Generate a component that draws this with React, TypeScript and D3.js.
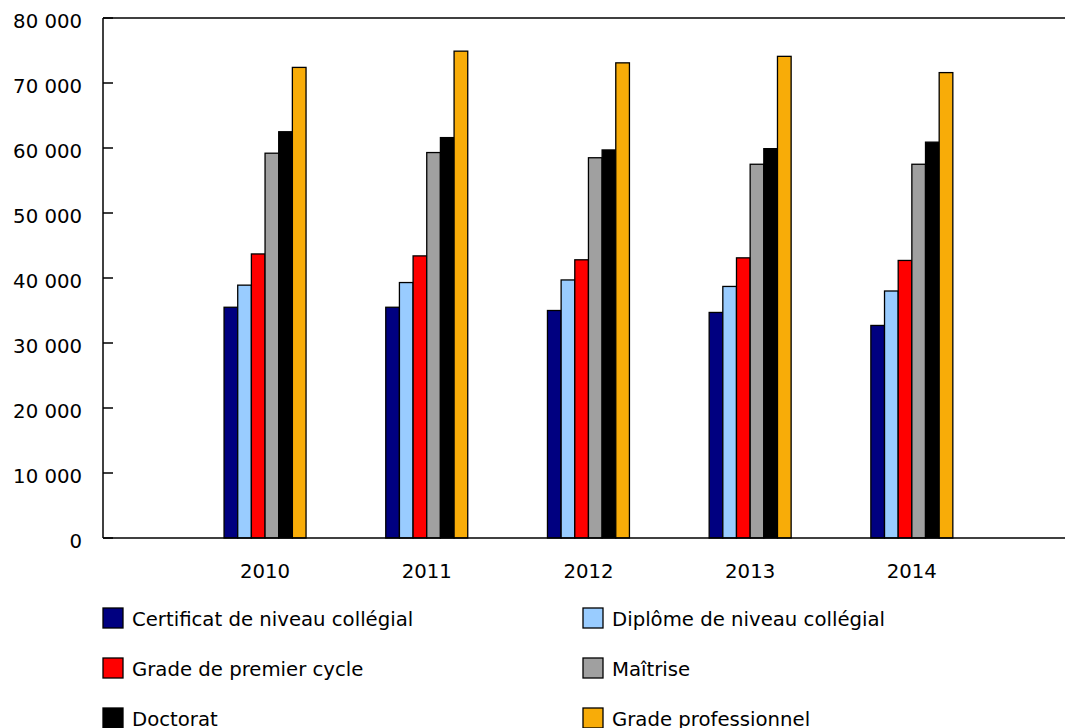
import React from "react";
import * as d3 from "d3";

const years = ["2010", "2011", "2012", "2013", "2014"];
const seriesNames = [
  "Certificat de niveau collégial",
  "Diplôme de niveau collégial",
  "Grade de premier cycle",
  "Maîtrise",
  "Doctorat",
  "Grade professionnel",
];
const seriesColors = ["#000080", "#99CCFF", "#FF0000", "#A0A0A0", "#000000", "#F8AC08"];
const certificat = [35500, 35500, 35000, 34700, 32700];
const diplome = [38900, 39300, 39700, 38700, 38000];
const premierCycle = [43700, 43400, 42800, 43100, 42700];
const maitrise = [59200, 59300, 58500, 57500, 57500];
const doctorat = [62500, 61600, 59700, 59900, 60900];
const professionnel = [72400, 74900, 73100, 74100, 71600];
const seriesValues = [certificat, diplome, premierCycle, maitrise, doctorat, professionnel];
const yTicks = [0, 10000, 20000, 30000, 40000, 50000, 60000, 70000, 80000];

const W = 1065;
const H = 728;
const FONT = "'DejaVu Sans', Verdana, sans-serif";
const FS = 19.7;

export default function App() {
  const axisX = 103;
  const top = 18;
  const bottom = 538;
  const y = d3.scaleLinear().domain([0, 80000]).range([bottom, top]);
  const x0 = d3
    .scaleBand<string>()
    .domain(years)
    .range([184.2, 992.7])
    .paddingInner(0.493)
    .paddingOuter(0.2465);
  const x1 = d3
    .scaleBand<number>()
    .domain(d3.range(seriesNames.length))
    .range([0, x0.bandwidth()]);
  const fmt = (v: number) => d3.format(",")(v).replace(/,/g, " ");

  return (
    <svg
      width={W}
      height={H}
      style={{ position: "absolute", left: 0, top: 0, background: "#fff" }}
      fontFamily={FONT}
    >
      {years.map((yr, i) => (
        <g key={yr} transform={`translate(${x0(yr)},0)`}>
          {seriesValues.map((vals, s) => (
            <rect
              key={s}
              x={x1(s)}
              y={y(vals[i])}
              width={x1.bandwidth()}
              height={bottom - y(vals[i])}
              fill={seriesColors[s]}
              stroke="#000"
              strokeWidth={1.3}
            />
          ))}
        </g>
      ))}
      <line x1={axisX} x2={W} y1={top} y2={top} stroke="#000" strokeWidth={1.5} />
      <line x1={axisX} x2={W} y1={bottom} y2={bottom} stroke="#000" strokeWidth={1.5} />
      <line x1={axisX} x2={axisX} y1={top} y2={bottom} stroke="#000" strokeWidth={1.5} />
      {yTicks.map((t) => (
        <g key={t}>
          <line x1={axisX} x2={axisX + 10} y1={y(t)} y2={y(t)} stroke="#000" strokeWidth={1.5} />
          <text x={82} y={y(t)} dy="0.5em" textAnchor="end" fontSize={FS} fill="#000">
            {fmt(t)}
          </text>
        </g>
      ))}
      {years.map((yr) => (
        <text
          key={yr}
          x={(x0(yr) as number) + x0.bandwidth() / 2}
          y={578}
          textAnchor="middle"
          fontSize={FS}
          fill="#000"
        >
          {yr}
        </text>
      ))}
      {seriesNames.map((name, s) => {
        const col = s % 2;
        const row = Math.floor(s / 2);
        const lx = col === 0 ? 103 : 583;
        const ly = 618 + row * 50;
        return (
          <g key={name}>
            <rect
              x={lx}
              y={ly - 10}
              width={20}
              height={20}
              fill={seriesColors[s]}
              stroke="#000"
              strokeWidth={1.3}
            />
            <text x={lx + 29} y={ly + 8} fontSize={FS} fill="#000">
              {name}
            </text>
          </g>
        );
      })}
    </svg>
  );
}
